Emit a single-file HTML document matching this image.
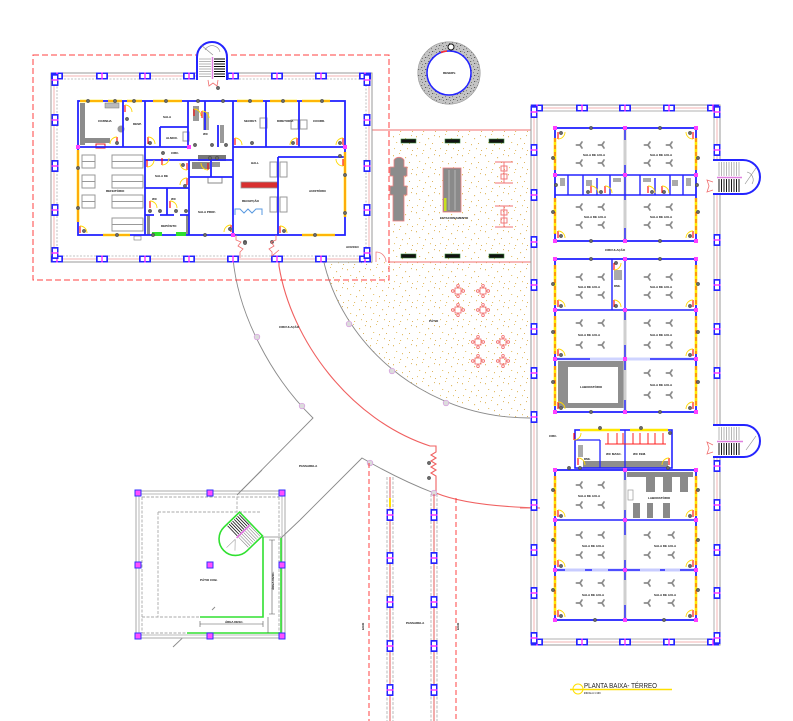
<!DOCTYPE html>
<html><head><meta charset="utf-8">
<style>
html,body{margin:0;padding:0;background:#fff;}
svg{display:block;}
text{font-family:"Liberation Sans",sans-serif;font-weight:bold;fill:#111;}
</style></head>
<body>
<svg width="793" height="721" viewBox="0 0 793 721" xmlns="http://www.w3.org/2000/svg">
<defs>
  <pattern id="sand" width="23" height="19" patternUnits="userSpaceOnUse">
    <rect x="2" y="3" width="1" height="1.3" fill="#e3bd68"/>
    <rect x="8" y="1" width="1" height="1" fill="#e8c878"/>
    <rect x="14" y="5" width="1.1" height="1.2" fill="#e3bd68"/>
    <rect x="20" y="2" width="0.9" height="1.1" fill="#ddb460"/>
    <rect x="5" y="9" width="1.2" height="1" fill="#e8c878"/>
    <rect x="11" y="11" width="1" height="1.2" fill="#e3bd68"/>
    <rect x="18" y="10" width="1" height="1" fill="#ddb460"/>
    <rect x="3" y="15" width="1" height="1.1" fill="#e8c878"/>
    <rect x="9" y="17" width="1.1" height="1" fill="#e3bd68"/>
    <rect x="16" y="15" width="1" height="1.2" fill="#e8c878"/>
    <rect x="21" y="17" width="1" height="1" fill="#ddb460"/>
  </pattern>
  <pattern id="speck" width="7" height="6" patternUnits="userSpaceOnUse">
    <rect width="7" height="6" fill="#c4c4c4"/>
    <rect x="1" y="1" width="1.2" height="1" fill="#6a6a6a"/>
    <rect x="4" y="0" width="1" height="1.2" fill="#888"/>
    <rect x="5" y="3" width="1.2" height="1" fill="#5a5a5a"/>
    <rect x="2" y="4" width="1" height="1" fill="#7a7a7a"/>
    <rect x="0" y="3" width="0.8" height="0.8" fill="#999"/>
  </pattern>
  <g id="cH"><rect x="-6" y="-3.5" width="12" height="7" fill="#2424ff"/><rect x="-4.3" y="-2" width="8.6" height="4" fill="#fff"/><rect x="-0.7" y="-3.5" width="1.4" height="7" fill="#ff30ff"/></g>
  <g id="cV"><rect x="-3.5" y="-6" width="7" height="12" fill="#2424ff"/><rect x="-2" y="-4.3" width="4" height="8.6" fill="#fff"/><rect x="-3.5" y="-0.7" width="7" height="1.4" fill="#ff30ff"/></g>
  <g id="dot"><circle r="1.7" fill="#6a6a6a" stroke="#333" stroke-width="0.4"/></g>
  <g id="fan" stroke="#8c8c8c" stroke-width="1.7" stroke-linecap="round"><line x1="0" y1="0" x2="-3.6" y2="0"/><line x1="0" y1="0" x2="2" y2="-3"/><line x1="0" y1="0" x2="2" y2="3"/></g>
  <g id="tbl" stroke="#f06464" fill="none" stroke-width="0.8"><rect x="-3" y="-3" width="6" height="6"/><circle cx="0" cy="-5.2" r="1.3"/><circle cx="0" cy="5.2" r="1.3"/><circle cx="-5.2" cy="0" r="1.3"/><circle cx="5.2" cy="0" r="1.3"/></g>
  <g id="dr"><path d="M0,0 L0,-7" stroke="#ff0000" stroke-width="1.1"/><path d="M0,-7 A7,7 0 0 1 7,0" stroke="#ffd800" fill="none" stroke-width="0.9"/></g>
  <g id="sq"><rect x="-3" y="-3" width="6" height="6" fill="#ff50ff" stroke="#3030ff" stroke-width="1"/></g>
</defs>

<!-- ===== SAND AREA ===== -->
<path d="M390,131 H531 V418 C420,418 340,340 323,258 L390,258 Z" fill="url(#sand)"/>
<line x1="372" y1="130" x2="531" y2="130" stroke="#f07070" stroke-width="1"/>
<line x1="388" y1="262" x2="531" y2="262" stroke="#f07070" stroke-width="1"/>
<path d="M376,262 V252 A10,10 0 0 1 386,262" fill="none" stroke="#f08080" stroke-width="0.8"/>

<!-- courtyard furniture -->
<g fill="#111" stroke="#3a8a3a" stroke-width="0.6">
  <rect x="401" y="139" width="15" height="4"/><rect x="445" y="139" width="15" height="4"/><rect x="489" y="139" width="15" height="4"/>
  <rect x="401" y="254" width="15" height="4"/><rect x="445" y="254" width="15" height="4"/><rect x="489" y="254" width="15" height="4"/>
</g>
<path d="M394,160 A6,6 0 0 1 404,160 V167 H407 V176 H404 V186 H407 V195 H404 V221 H393 V195 H390 V186 H393 V176 H390 V167 H394 Z" fill="#8c8c8c" stroke="#f08080" stroke-width="0.8"/>
<rect x="443" y="168" width="18" height="44" fill="#8a8a8a" stroke="#f08080" stroke-width="0.8"/>
<line x1="449" y1="170" x2="449" y2="210" stroke="#a8a8a8" stroke-width="1.5"/>
<line x1="455" y1="170" x2="455" y2="210" stroke="#a8a8a8" stroke-width="1.5"/>
<rect x="444" y="198" width="2.5" height="13" fill="#c8e020"/>
<text x="440" y="219" font-size="3">ESTACIONAMENTO</text>
<g stroke="#f07070" fill="none" stroke-width="0.9">
  <line x1="495" y1="162" x2="513" y2="162"/><line x1="495" y1="183" x2="513" y2="183"/><line x1="504" y1="162" x2="504" y2="183"/>
  <rect x="501" y="166" width="6" height="5"/><rect x="501" y="174" width="6" height="5"/>
  <line x1="495" y1="206" x2="513" y2="206"/><line x1="495" y1="227" x2="513" y2="227"/><line x1="504" y1="206" x2="504" y2="227"/>
  <rect x="501" y="210" width="6" height="5"/><rect x="501" y="218" width="6" height="5"/>
</g>
<use href="#tbl" x="458" y="291"/><use href="#tbl" x="483" y="291"/><use href="#tbl" x="458" y="310"/><use href="#tbl" x="483" y="310"/>
<use href="#tbl" x="478" y="342"/><use href="#tbl" x="503" y="342"/><use href="#tbl" x="478" y="361"/><use href="#tbl" x="503" y="361"/>
<text x="429" y="322" font-size="3">PÁTIO</text>

<!-- ===== ARCS / PATHS ===== -->
<g fill="none">
  <path d="M233,258 C238,315 272,378 313,418 L237,495" stroke="#8a8a8a" stroke-width="0.9"/>
  <path d="M323,258 C340,340 420,418 530,418" stroke="#8a8a8a" stroke-width="0.9"/>
  <path d="M300,520 L362,458 Q400,480 434,493" stroke="#8a8a8a" stroke-width="0.9"/>
  <path d="M215,607 L173,647" stroke="#8a8a8a" stroke-width="0.9"/>
  <path d="M279,250 L279,266 C291,340 350,420 430,446 L436,446 L436,452 L431,455 L436,458 L431,461 L436,464 L431,467 L436,470 L431,473 L436,476 L436,493 C460,503 500,507 540,508" stroke="#f06060" stroke-width="1.1"/>
</g>
<g fill="#dcdcdc" stroke="#d79be0" stroke-width="0.7">
  <circle cx="257" cy="337" r="2.8"/><circle cx="302" cy="406" r="2.8"/><circle cx="349" cy="324" r="2.8"/>
  <circle cx="392" cy="371" r="2.8"/><circle cx="446" cy="403" r="2.8"/><circle cx="370" cy="463" r="2.8"/><circle cx="434" cy="493" r="2.8"/>
</g>
<use href="#dot" x="429" y="463"/><use href="#dot" x="429" y="478"/>
<text x="279" y="328" font-size="3">CIRCULAÇÃO</text>
<text x="299" y="467" font-size="3">PASSARELA</text>

<!-- ===== ROAD COLUMNS ===== -->
<g fill="none">
  <line x1="369" y1="463" x2="369" y2="721" stroke="#ff3030" stroke-width="0.9" stroke-dasharray="5 3"/>
  <line x1="456" y1="498" x2="456" y2="721" stroke="#ff3030" stroke-width="0.9" stroke-dasharray="5 3"/>
  <line x1="387" y1="477" x2="387" y2="721" stroke="#aaa" stroke-width="0.8" stroke-dasharray="3 1.5"/>
  <line x1="393" y1="477" x2="393" y2="721" stroke="#aaa" stroke-width="0.8" stroke-dasharray="3 1.5"/>
  <line x1="390" y1="477" x2="390" y2="721" stroke="#e03030" stroke-width="0.8"/>
  <line x1="431" y1="494" x2="431" y2="721" stroke="#aaa" stroke-width="0.8" stroke-dasharray="3 1.5"/>
  <line x1="437" y1="494" x2="437" y2="721" stroke="#aaa" stroke-width="0.8" stroke-dasharray="3 1.5"/>
  <line x1="434" y1="494" x2="434" y2="721" stroke="#e03030" stroke-width="0.8"/>
  <line x1="390" y1="498" x2="390" y2="507" stroke="#ffe000" stroke-width="2"/>
</g>
<use href="#cV" x="390" y="515"/><use href="#cV" x="390" y="558"/><use href="#cV" x="390" y="602"/><use href="#cV" x="390" y="646"/><use href="#cV" x="390" y="690"/>
<use href="#cV" x="434" y="515"/><use href="#cV" x="434" y="558"/><use href="#cV" x="434" y="602"/><use href="#cV" x="434" y="646"/><use href="#cV" x="434" y="690"/>
<text x="406" y="624" font-size="3">PASSARELA</text>
<text x="364" y="630" font-size="3" transform="rotate(-90 364 630)">EIXO</text>
<text x="459" y="630" font-size="3" transform="rotate(-90 459 630)">EIXO</text>

<!-- ===== TOP-LEFT BUILDING ===== -->
<rect x="33" y="55" width="356" height="225" fill="none" stroke="#ff4040" stroke-width="1" stroke-dasharray="6 3"/>
<rect x="51" y="73" width="321" height="189" fill="#fff" stroke="#9a9a9a" stroke-width="1"/>
<rect x="54" y="76" width="315" height="183" fill="none" stroke="#f0a0a0" stroke-width="0.8"/>
<rect x="57" y="79" width="309" height="177" fill="none" stroke="#b0b0b0" stroke-width="0.8" stroke-dasharray="2 1.5"/>
<!-- stair top -->
<path d="M197,80 V57 A15,15 0 0 1 227,57 V80" fill="#fff" stroke="#2424ff" stroke-width="2"/>
<g stroke="#888" stroke-width="0.6">
  <line x1="199" y1="59" x2="211" y2="59"/><line x1="199" y1="61.5" x2="211" y2="61.5"/><line x1="199" y1="64" x2="211" y2="64"/><line x1="199" y1="66.5" x2="211" y2="66.5"/><line x1="199" y1="69" x2="211" y2="69"/><line x1="199" y1="71.5" x2="211" y2="71.5"/><line x1="199" y1="74" x2="211" y2="74"/><line x1="199" y1="76.5" x2="211" y2="76.5"/>
</g>
<g stroke="#000" stroke-width="1">
  <line x1="214" y1="59" x2="225" y2="59"/><line x1="214" y1="61.5" x2="225" y2="61.5"/><line x1="214" y1="64" x2="225" y2="64"/><line x1="214" y1="66.5" x2="225" y2="66.5"/><line x1="214" y1="69" x2="225" y2="69"/><line x1="214" y1="71.5" x2="225" y2="71.5"/><line x1="214" y1="74" x2="225" y2="74"/><line x1="214" y1="76.5" x2="225" y2="76.5"/>
</g>
<line x1="212.5" y1="57" x2="212.5" y2="79" stroke="#e080e0" stroke-width="1.5"/>
<path d="M201,45 L213,55 M205,50 A8,8 0 0 1 220,52" stroke="#888" stroke-width="0.6" fill="none"/>
<path d="M208,80 L209,86 L213,83 L217,86 L218,80" stroke="#f07070" fill="none" stroke-width="0.8"/>
<use href="#dot" x="218" y="88"/>
<!-- outer columns -->
<g>
<use href="#cH" x="57" y="76"/><use href="#cH" x="102" y="76"/><use href="#cH" x="145" y="76"/><use href="#cH" x="189" y="76"/><use href="#cH" x="233" y="76"/><use href="#cH" x="277" y="76"/><use href="#cH" x="321" y="76"/><use href="#cH" x="365" y="76"/>
<use href="#cH" x="57" y="259"/><use href="#cH" x="102" y="259"/><use href="#cH" x="145" y="259"/><use href="#cH" x="189" y="259"/><use href="#cH" x="233" y="259"/><use href="#cH" x="277" y="259"/><use href="#cH" x="321" y="259"/><use href="#cH" x="365" y="259"/>
<use href="#cV" x="55" y="80"/><use href="#cV" x="55" y="120"/><use href="#cV" x="55" y="166"/><use href="#cV" x="55" y="210"/><use href="#cV" x="55" y="253"/>
<use href="#cV" x="367" y="80"/><use href="#cV" x="367" y="120"/><use href="#cV" x="367" y="166"/><use href="#cV" x="367" y="210"/><use href="#cV" x="367" y="253"/>
</g>
<!-- interior fixtures -->
<g fill="#8c8c8c">
  <rect x="80" y="103" width="5" height="42"/><rect x="80" y="138" width="30" height="5"/>
  <rect x="105" y="103" width="14" height="5" fill="#bbb" stroke="#777" stroke-width="0.5"/>
  <circle cx="121" cy="129" r="3.5" fill="#999"/>
  <rect x="198" y="155" width="28" height="6" fill="#777"/>
  <rect x="192" y="162" width="18" height="7" fill="#888"/>
  <rect x="212" y="162" width="8" height="5" fill="#999"/>
  <rect x="208" y="177" width="14" height="6" fill="none" stroke="#888" stroke-width="1"/>
  <rect x="147" y="215" width="3" height="20"/><rect x="186" y="215" width="3" height="20"/>
  <rect x="193" y="106" width="6" height="15" fill="#999"/><rect x="203" y="112" width="6" height="18" fill="#aaa"/>
  <rect x="220" y="125" width="4" height="18" fill="#999"/>
</g>
<rect x="96" y="144" width="9" height="4" fill="#fff" stroke="#e02020" stroke-width="1"/>
<g fill="none" stroke="#999" stroke-width="1">
  <rect x="82" y="155" width="13" height="13"/><rect x="82" y="175" width="13" height="13"/><rect x="82" y="195" width="13" height="13"/>
  <rect x="112" y="155" width="31" height="13"/><rect x="112" y="175" width="31" height="13"/><rect x="112" y="195" width="31" height="13"/><rect x="112" y="218" width="31" height="13"/>
  <line x1="82" y1="161.5" x2="95" y2="161.5"/><line x1="82" y1="181.5" x2="95" y2="181.5"/><line x1="82" y1="201.5" x2="95" y2="201.5"/>
  <line x1="112" y1="161.5" x2="143" y2="161.5"/><line x1="112" y1="181.5" x2="143" y2="181.5"/><line x1="112" y1="201.5" x2="143" y2="201.5"/><line x1="112" y1="224.5" x2="143" y2="224.5"/>
  <rect x="260" y="118" width="7" height="10"/><rect x="291" y="120" width="7" height="9"/><rect x="300" y="120" width="7" height="9"/>
  <rect x="183" y="132" width="6" height="9"/>
  <rect x="270" y="162" width="7" height="15"/><rect x="280" y="162" width="7" height="15"/>
  <rect x="270" y="197" width="7" height="15"/><rect x="280" y="197" width="7" height="15"/>
</g>
<rect x="241" y="182" width="37" height="6" fill="#d83030" stroke="#999" stroke-width="0.8"/>
<path d="M235,215 V209 H240 L244,213 L248,209 L252,213 L256,209 H262 V215" fill="none" stroke="#5a9ae0" stroke-width="1"/>
<rect x="134" y="236" width="7" height="4" fill="none" stroke="#777" stroke-width="0.6"/>
<!-- walls -->
<g fill="none" stroke="#2424ff" stroke-width="1.8">
  <rect x="78" y="101" width="267" height="134"/>
  <path d="M78,147 H190 M233,147 H345 M123,101 V147 M145,101 V235 M188,101 V147 M160,127 H188 M160,127 V147 M233,101 V235 M266,101 V147 M299,101 V147 M145,160 H233 M278,157 H345 M278,157 V235 M145,188 H189 M189,160 V235 M167,188 V215 M145,215 H154 M160,215 H174 M180,215 H189 M189,177 H233 M211,160 V177 M205,101 V130 M218,125 V147"/>
</g>
<!-- windows -->
<g stroke="#ffe800" stroke-width="2.6">
  <path d="M80,101 H103 M108,101 H122 M127,101 H142 M153,101 H182 M237,101 H263 M270,101 H297 M302,101 H330 M78,150 V222 M345,152 V217 M103,235 H130 M302,235 H335"/>
</g>
<g stroke="#ff2020" stroke-width="0.6">
  <path d="M80,101 H103 M108,101 H122 M127,101 H142 M153,101 H182 M237,101 H263 M270,101 H297 M302,101 H330 M78,150 V222 M345,152 V217 M103,235 H130 M302,235 H335"/>
</g>
<rect x="152" y="232" width="10" height="4" fill="#30e030"/><rect x="176" y="232" width="10" height="4" fill="#30e030"/>
<g fill="#ff40ff">
  <rect x="76" y="145" width="4" height="4"/><rect x="343" y="145" width="4" height="4"/><rect x="187" y="145" width="4" height="4"/><rect x="231" y="233" width="4" height="4"/>
</g>
<!-- door arcs -->
<use href="#dr" transform="translate(117,144) scale(-1,1)"/>
<use href="#dr" transform="translate(148,144)"/>
<use href="#dr" transform="translate(125,112)"/>
<use href="#dr" transform="translate(147,160) scale(1,-1)"/>
<use href="#dr" transform="translate(162,158) scale(1,-1)"/>
<use href="#dr" transform="translate(187,163) scale(-1,-1)"/>
<use href="#dr" transform="translate(187,185) scale(-1,1)"/>
<use href="#dr" transform="translate(231,232) scale(-1,1)"/>
<use href="#dr" transform="translate(235,145)"/>
<use href="#dr" transform="translate(297,145) scale(-1,1)"/>
<use href="#dr" transform="translate(343,145) scale(-1,1)"/>
<use href="#dr" transform="translate(343,159) scale(-1,-1)"/>
<use href="#dr" transform="translate(80,233)"/>
<use href="#dr" transform="translate(280,233)"/>
<use href="#dr" transform="translate(194,116)"/>
<use href="#dr" transform="translate(202,118)"/>
<use href="#dr" transform="translate(170,208)"/>
<use href="#dr" transform="translate(150,208)"/>
<use href="#dr" transform="translate(208,163) scale(-1,-1)"/>
<!-- dots -->
<g>
<use href="#dot" x="88" y="101"/><use href="#dot" x="115" y="101"/><use href="#dot" x="134" y="101"/><use href="#dot" x="166" y="101"/><use href="#dot" x="198" y="101"/><use href="#dot" x="223" y="101"/><use href="#dot" x="250" y="101"/><use href="#dot" x="283" y="101"/><use href="#dot" x="322" y="101"/>
<use href="#dot" x="117" y="235"/><use href="#dot" x="153" y="235"/><use href="#dot" x="205" y="235"/><use href="#dot" x="245" y="242"/><use href="#dot" x="315" y="235"/><use href="#dot" x="272" y="242"/>
<use href="#dot" x="78" y="168"/><use href="#dot" x="78" y="208"/><use href="#dot" x="345" y="175"/><use href="#dot" x="345" y="213"/>
<use href="#dot" x="127" y="119"/><use href="#dot" x="150" y="143"/><use href="#dot" x="117" y="143"/><use href="#dot" x="195" y="145"/><use href="#dot" x="212" y="145"/><use href="#dot" x="226" y="145"/>
<use href="#dot" x="163" y="153"/><use href="#dot" x="183" y="165"/><use href="#dot" x="185" y="186"/><use href="#dot" x="150" y="211"/><use href="#dot" x="160" y="211"/><use href="#dot" x="176" y="211"/><use href="#dot" x="186" y="211"/>
<use href="#dot" x="252" y="143"/><use href="#dot" x="293" y="143"/><use href="#dot" x="340" y="143"/><use href="#dot" x="340" y="156"/><use href="#dot" x="84" y="231"/><use href="#dot" x="284" y="231"/><use href="#dot" x="230" y="229"/>
<use href="#dot" x="210" y="158"/><use href="#dot" x="217" y="158"/>
</g>
<!-- entrance doors -->
<path d="M236,235 V240 L241,242 L238,246 L243,249 L240,252 V258" fill="none" stroke="#f07070" stroke-width="0.8"/>
<path d="M276,235 V240 L271,242 L274,246 L269,249 L272,252 V256 L279,250" fill="none" stroke="#f07070" stroke-width="0.8"/>
<use href="#dot" x="245" y="243"/>
<!-- labels -->
<g font-size="3">
  <text x="98" y="122">COZINHA</text><text x="133" y="125">DESP.</text><text x="163" y="118">SALA</text><text x="166" y="139">ALMOX.</text>
  <text x="203" y="135">WC</text><text x="244" y="122">SECRET.</text><text x="277" y="122">DIRETORIA</text><text x="313" y="122">COORD.</text>
  <text x="106" y="192">REFEITÓRIO</text><text x="171" y="154">CIRC.</text><text x="155" y="177">SALA DE</text>
  <text x="152" y="200">WC</text><text x="171" y="200">WC</text><text x="198" y="213">SALA PROF.</text>
  <text x="251" y="164">HALL</text><text x="242" y="202">RECEPÇÃO</text><text x="309" y="192">AUDITÓRIO</text>
  <text x="161" y="227">DEPÓSITO</text><text x="346" y="248">ACESSO</text>
</g>

<!-- ===== ROUND TANK ===== -->
<circle cx="449" cy="73" r="26.5" fill="none" stroke="url(#speck)" stroke-width="9.5"/>
<circle cx="449" cy="73" r="31.2" fill="none" stroke="#9a9a9a" stroke-width="0.6"/>
<circle cx="449" cy="73" r="22" fill="#fff" stroke="#2424ff" stroke-width="1.5"/>
<path d="M441,52.5 A22,22 0 0 1 447,51" stroke="#ff3030" stroke-width="1.5" fill="none"/>
<circle cx="451" cy="47" r="3" fill="#fff" stroke="#111" stroke-width="1"/>
<text x="443" y="74" font-size="3">RESERV.</text>

<!-- ===== RIGHT BUILDING ===== -->
<rect x="531" y="105" width="189" height="540" fill="none" stroke="#999" stroke-width="1"/>
<rect x="534" y="108" width="183" height="534" fill="none" stroke="#f0a0a0" stroke-width="0.8"/>
<rect x="537" y="111" width="177" height="528" fill="none" stroke="#aaa" stroke-width="0.9"/>
<line x1="520" y1="508" x2="531" y2="508" stroke="#f07070"/>
<!-- stairs right -->
<path d="M713,160 H743 A17,17 0 0 1 743,194 H713" fill="#fff" stroke="#2424ff" stroke-width="2"/>
<g stroke="#888" stroke-width="0.6"><path d="M719,162 V176 M721.5,162 V176 M724,162 V176 M726.5,162 V176 M729,162 V176 M731.5,162 V176 M734,162 V176 M736.5,162 V176 M739,162 V176"/></g>
<g stroke="#000" stroke-width="0.9"><path d="M719,179 V192 M721.5,179 V192 M724,179 V192 M726.5,179 V192 M729,179 V192 M731.5,179 V192 M734,179 V192 M736.5,179 V192 M739,179 V192"/></g>
<line x1="717" y1="177.5" x2="742" y2="177.5" stroke="#e080e0" stroke-width="1.5"/>
<path d="M745,184 L756,168 M747,172 A8,8 0 0 1 752,184" stroke="#888" stroke-width="0.6" fill="none"/>
<path d="M713,182 L707,180 L709,186 L707,192 L713,190" fill="none" stroke="#f07070" stroke-width="0.8"/>
<path d="M713,425 H744 A16,16 0 0 1 744,457 H713" fill="#fff" stroke="#2424ff" stroke-width="2"/>
<g stroke="#888" stroke-width="0.6"><path d="M719,427 V440 M721.5,427 V440 M724,427 V440 M726.5,427 V440 M729,427 V440 M731.5,427 V440 M734,427 V440 M736.5,427 V440 M739,427 V440"/></g>
<g stroke="#000" stroke-width="0.9"><path d="M719,443 V455 M721.5,443 V455 M724,443 V455 M726.5,443 V455 M729,443 V455 M731.5,443 V455 M734,443 V455 M736.5,443 V455 M739,443 V455"/></g>
<line x1="717" y1="441.5" x2="743" y2="441.5" stroke="#e080e0" stroke-width="1.5"/>
<path d="M746,450 L756,436" stroke="#888" stroke-width="0.6"/>
<path d="M713,445 L707,442 L709,448 L707,454 L713,452" fill="none" stroke="#f07070" stroke-width="0.8"/>
<!-- outer columns -->
<g>
<use href="#cH" x="537" y="108"/><use href="#cH" x="582" y="108"/><use href="#cH" x="625" y="108"/><use href="#cH" x="669" y="108"/><use href="#cH" x="713" y="108"/>
<use href="#cH" x="537" y="642"/><use href="#cH" x="582" y="642"/><use href="#cH" x="625" y="642"/><use href="#cH" x="669" y="642"/><use href="#cH" x="713" y="642"/>
<use href="#cV" x="534" y="112"/><use href="#cV" x="534" y="150"/><use href="#cV" x="534" y="195"/><use href="#cV" x="534" y="242"/><use href="#cV" x="534" y="285"/><use href="#cV" x="534" y="329"/><use href="#cV" x="534" y="373"/><use href="#cV" x="534" y="417"/><use href="#cV" x="534" y="505"/><use href="#cV" x="534" y="550"/><use href="#cV" x="534" y="593"/><use href="#cV" x="534" y="638"/>
<use href="#cV" x="717" y="112"/><use href="#cV" x="717" y="150"/><use href="#cV" x="717" y="240"/><use href="#cV" x="717" y="285"/><use href="#cV" x="717" y="329"/><use href="#cV" x="717" y="373"/><use href="#cV" x="717" y="466"/><use href="#cV" x="717" y="505"/><use href="#cV" x="717" y="550"/><use href="#cV" x="717" y="593"/><use href="#cV" x="717" y="638"/>
</g>

<!-- Block 1 -->
<g fill="none">
  <line x1="625" y1="128" x2="625" y2="241" stroke="#cfcfcf" stroke-width="3"/>
  <rect x="555" y="128" width="141" height="113" stroke="#2424ff" stroke-width="1.8"/>
  <path d="M555,175 H696 M555,195 H696 M625,128 V140 M625,165 V200 M625,228 V241 M568,175 V195 M583,175 V195 M597,178 V195 M610,175 V195 M640,175 V195 M655,178 V195 M670,175 V195 M683,175 V195" stroke="#2424ff" stroke-width="1.4"/>
</g>
<g fill="#aaa"><rect x="560" y="178" width="5" height="8"/><rect x="586" y="180" width="6" height="6"/><rect x="613" y="178" width="8" height="4"/><rect x="643" y="178" width="8" height="4"/><rect x="672" y="180" width="6" height="6"/><rect x="686" y="178" width="5" height="8"/></g>
<!-- Block 2 -->
<rect x="558" y="361" width="67" height="47" fill="#8e8e8e"/>
<rect x="568" y="367" width="50" height="36" fill="#fff"/>
<g fill="none">
  <line x1="625" y1="310" x2="625" y2="412" stroke="#cfcfcf" stroke-width="3"/>
  <line x1="555" y1="359" x2="696" y2="359" stroke="#cfd4ff" stroke-width="3"/>
  <rect x="555" y="259" width="141" height="153" stroke="#2424ff" stroke-width="1.8"/>
  <path d="M555,310 H696 M555,359 H590 M650,359 H696 M612,259 V310 M625,259 V320 M625,345 V370 M625,400 V412" stroke="#2424ff" stroke-width="1.4"/>
</g>
<rect x="614" y="270" width="8" height="10" fill="#aaa"/>
<!-- Block 3 WC -->
<rect x="583" y="461" width="85" height="7" fill="#8e8e8e"/>
<g fill="none">
  <rect x="575" y="430" width="97" height="38" stroke="#2424ff" stroke-width="1.6"/>
  <path d="M625,430 V468 M600,440 V468 M575,440 H600" stroke="#2424ff" stroke-width="1.3"/>
  <path d="M580,430 H620 M630,430 H668" stroke="#ffe800" stroke-width="2.4"/>
  <path d="M608,433 V444 M617,433 V444 M623,433 V444 M633,433 V444 M640,433 V444 M648,433 V444 M655,433 V444 M663,433 V444 M605,444 H666" stroke="#ff2020" stroke-width="1"/>
</g>
<rect x="578" y="445" width="5" height="12" fill="#aaa"/>
<!-- Block 4 -->
<g fill="#8a8a8a">
  <rect x="627" y="472" width="66" height="5"/><rect x="646" y="477" width="9" height="15"/><rect x="663" y="477" width="9" height="15"/><rect x="680" y="477" width="8" height="15"/>
  <rect x="633" y="503" width="7" height="15"/><rect x="647" y="503" width="6" height="15"/><rect x="663" y="503" width="7" height="15"/>
</g>
<rect x="628" y="490" width="5" height="10" fill="none" stroke="#999" stroke-width="0.7"/>
<g fill="none">
  <line x1="625" y1="470" x2="625" y2="620" stroke="#cfcfcf" stroke-width="3"/>
  <line x1="555" y1="570" x2="696" y2="570" stroke="#c8ccff" stroke-width="3"/>
  <rect x="555" y="470" width="141" height="150" stroke="#2424ff" stroke-width="1.8"/>
  <path d="M555,520 H696 M555,570 H565 M585,570 H592 M608,570 H640 M660,570 H665 M680,570 H696 M625,470 V480 M625,510 V535 M625,560 V580 M625,605 V620" stroke="#2424ff" stroke-width="1.4"/>
</g>
<!-- windows on blocks -->
<g stroke="#ffe800" stroke-width="2.6" fill="none">
  <path d="M555,138 V170 M555,198 V234 M696,138 V170 M696,198 V234 M555,265 V305 M555,316 V354 M555,366 V406 M696,265 V305 M696,316 V354 M696,366 V406 M555,476 V516 M555,526 V565 M555,576 V615 M696,476 V516 M696,526 V565 M696,576 V615"/>
</g>
<g stroke="#ff2020" stroke-width="0.8" fill="none" stroke-dasharray="4 3">
  <path d="M555,138 V170 M555,198 V234 M696,138 V170 M696,198 V234 M555,265 V305 M555,316 V354 M555,366 V406 M696,265 V305 M696,316 V354 M696,366 V406 M555,476 V516 M555,526 V565 M555,576 V615 M696,476 V516 M696,526 V565 M696,576 V615"/>
</g>
<!-- magenta joints -->
<g fill="#ff40ff">
  <rect x="553" y="126" width="4" height="4"/><rect x="623" y="126" width="4" height="4"/><rect x="694" y="126" width="4" height="4"/>
  <rect x="553" y="239" width="4" height="4"/><rect x="623" y="239" width="4" height="4"/><rect x="694" y="239" width="4" height="4"/>
  <rect x="553" y="173" width="4" height="4"/><rect x="623" y="173" width="4" height="4"/><rect x="694" y="173" width="4" height="4"/>
  <rect x="553" y="257" width="4" height="4"/><rect x="623" y="257" width="4" height="4"/><rect x="694" y="257" width="4" height="4"/>
  <rect x="553" y="308" width="4" height="4"/><rect x="623" y="308" width="4" height="4"/><rect x="694" y="308" width="4" height="4"/>
  <rect x="553" y="357" width="4" height="4"/><rect x="623" y="357" width="4" height="4"/><rect x="694" y="357" width="4" height="4"/>
  <rect x="553" y="410" width="4" height="4"/><rect x="623" y="410" width="4" height="4"/><rect x="694" y="410" width="4" height="4"/>
  <rect x="553" y="468" width="4" height="4"/><rect x="623" y="468" width="4" height="4"/><rect x="694" y="468" width="4" height="4"/>
  <rect x="553" y="518" width="4" height="4"/><rect x="623" y="518" width="4" height="4"/><rect x="694" y="518" width="4" height="4"/>
  <rect x="553" y="568" width="4" height="4"/><rect x="623" y="568" width="4" height="4"/><rect x="694" y="568" width="4" height="4"/>
  <rect x="553" y="618" width="4" height="4"/><rect x="623" y="618" width="4" height="4"/><rect x="694" y="618" width="4" height="4"/>
</g>
<!-- door arcs right building -->
<g>
<use href="#dr" transform="translate(558,132) scale(1,-1)"/><use href="#dr" transform="translate(693,132) scale(-1,-1)"/>
<use href="#dr" transform="translate(558,238)"/><use href="#dr" transform="translate(693,238) scale(-1,1)"/>
<use href="#dr" transform="translate(558,307)"/><use href="#dr" transform="translate(693,307) scale(-1,1)"/>
<use href="#dr" transform="translate(558,356)"/><use href="#dr" transform="translate(693,356) scale(-1,1)"/>
<use href="#dr" transform="translate(558,409)"/><use href="#dr" transform="translate(693,409) scale(-1,1)"/>
<use href="#dr" transform="translate(558,517)"/><use href="#dr" transform="translate(693,517) scale(-1,1)"/>
<use href="#dr" transform="translate(558,567)"/><use href="#dr" transform="translate(693,567) scale(-1,1)"/>
<use href="#dr" transform="translate(558,617)"/><use href="#dr" transform="translate(693,617) scale(-1,1)"/>
<use href="#dr" transform="translate(614,263) scale(1,-1)"/><use href="#dr" transform="translate(614,307)"/>
<use href="#dr" transform="translate(578,465)"/><use href="#dr" transform="translate(669,465) scale(-1,1)"/>
<use href="#dr" transform="translate(591,193)"/><use href="#dr" transform="translate(605,193)"/><use href="#dr" transform="translate(648,193)"/><use href="#dr" transform="translate(662,193)"/>
<use href="#dr" transform="translate(574,433) scale(1,-1)"/>
</g>
<!-- dots right building -->
<g>
<use href="#dot" x="591" y="128"/><use href="#dot" x="660" y="128"/><use href="#dot" x="591" y="241"/><use href="#dot" x="660" y="241"/>
<use href="#dot" x="553" y="158"/><use href="#dot" x="553" y="212"/><use href="#dot" x="698" y="158"/><use href="#dot" x="698" y="212"/>
<use href="#dot" x="556" y="185"/><use href="#dot" x="697" y="185"/><use href="#dot" x="588" y="192"/><use href="#dot" x="601" y="192"/><use href="#dot" x="652" y="192"/><use href="#dot" x="664" y="192"/>
<use href="#dot" x="591" y="259"/><use href="#dot" x="660" y="259"/><use href="#dot" x="591" y="412"/><use href="#dot" x="660" y="412"/>
<use href="#dot" x="553" y="284"/><use href="#dot" x="553" y="332"/><use href="#dot" x="553" y="382"/><use href="#dot" x="698" y="284"/><use href="#dot" x="698" y="332"/><use href="#dot" x="698" y="382"/>
<use href="#dot" x="616" y="263"/><use href="#dot" x="616" y="306"/>
<use href="#dot" x="600" y="428"/><use href="#dot" x="641" y="428"/><use href="#dot" x="670" y="433"/><use href="#dot" x="668" y="468"/><use href="#dot" x="569" y="468"/><use href="#dot" x="580" y="468"/>
<use href="#dot" x="595" y="620"/><use href="#dot" x="664" y="620"/>
<use href="#dot" x="553" y="490"/><use href="#dot" x="553" y="540"/><use href="#dot" x="553" y="590"/><use href="#dot" x="698" y="490"/><use href="#dot" x="698" y="540"/><use href="#dot" x="698" y="590"/>
<use href="#dot" x="561" y="516"/><use href="#dot" x="690" y="516"/><use href="#dot" x="561" y="616"/><use href="#dot" x="690" y="616"/><use href="#dot" x="561" y="566"/><use href="#dot" x="690" y="566"/>
<use href="#dot" x="561" y="236"/><use href="#dot" x="690" y="236"/><use href="#dot" x="561" y="133"/><use href="#dot" x="690" y="133"/>
<use href="#dot" x="561" y="306"/><use href="#dot" x="690" y="306"/><use href="#dot" x="561" y="355"/><use href="#dot" x="690" y="355"/><use href="#dot" x="561" y="408"/><use href="#dot" x="690" y="408"/>
</g>
<!-- fans -->
<g>
<use href="#fan" x="580" y="145"/><use href="#fan" x="602" y="145"/><use href="#fan" x="580" y="163"/><use href="#fan" x="602" y="163"/>
<use href="#fan" x="648" y="145"/><use href="#fan" x="670" y="145"/><use href="#fan" x="648" y="163"/><use href="#fan" x="670" y="163"/>
<use href="#fan" x="580" y="207"/><use href="#fan" x="602" y="207"/><use href="#fan" x="580" y="225"/><use href="#fan" x="602" y="225"/>
<use href="#fan" x="648" y="207"/><use href="#fan" x="670" y="207"/><use href="#fan" x="648" y="225"/><use href="#fan" x="670" y="225"/>
<use href="#fan" x="580" y="277"/><use href="#fan" x="602" y="277"/><use href="#fan" x="580" y="295"/><use href="#fan" x="602" y="295"/>
<use href="#fan" x="648" y="277"/><use href="#fan" x="670" y="277"/><use href="#fan" x="648" y="295"/><use href="#fan" x="670" y="295"/>
<use href="#fan" x="580" y="323"/><use href="#fan" x="602" y="323"/><use href="#fan" x="580" y="345"/><use href="#fan" x="602" y="345"/>
<use href="#fan" x="648" y="323"/><use href="#fan" x="670" y="323"/><use href="#fan" x="648" y="345"/><use href="#fan" x="670" y="345"/>
<use href="#fan" x="648" y="373"/><use href="#fan" x="670" y="373"/><use href="#fan" x="648" y="395"/><use href="#fan" x="670" y="395"/>
<use href="#fan" x="580" y="485"/><use href="#fan" x="602" y="485"/><use href="#fan" x="580" y="505"/><use href="#fan" x="602" y="505"/>
<use href="#fan" x="580" y="535"/><use href="#fan" x="602" y="535"/><use href="#fan" x="580" y="555"/><use href="#fan" x="602" y="555"/>
<use href="#fan" x="648" y="535"/><use href="#fan" x="672" y="535"/><use href="#fan" x="648" y="555"/><use href="#fan" x="672" y="555"/>
<use href="#fan" x="580" y="583"/><use href="#fan" x="602" y="583"/><use href="#fan" x="580" y="603"/><use href="#fan" x="602" y="603"/>
<use href="#fan" x="648" y="583"/><use href="#fan" x="672" y="583"/><use href="#fan" x="648" y="603"/><use href="#fan" x="672" y="603"/>
</g>
<!-- labels right building -->
<g font-size="3">
  <text x="583" y="156">SALA DE AULA</text><text x="650" y="156">SALA DE AULA</text>
  <text x="584" y="218">SALA DE AULA</text><text x="650" y="218">SALA DE AULA</text>
  <text x="578" y="288">SALA DE AULA</text><text x="650" y="288">SALA DE AULA</text>
  <text x="578" y="336">SALA DE AULA</text><text x="650" y="336">SALA DE AULA</text>
  <text x="580" y="388">LABORATÓRIO</text><text x="650" y="386">SALA DE AULA</text>
  <text x="578" y="497">SALA DE AULA</text><text x="648" y="499">LABORATÓRIO</text>
  <text x="582" y="547">SALA DE AULA</text><text x="654" y="547">SALA DE AULA</text>
  <text x="582" y="596">SALA DE AULA</text><text x="654" y="596">SALA DE AULA</text>
  <text x="605" y="251">CIRCULAÇÃO</text><text x="549" y="437">CIRC.</text>
  <text x="606" y="455">WC MASC.</text><text x="633" y="455">WC FEM.</text><text x="584" y="460">DML</text>
  <text x="614" y="287">DML</text>
</g>

<!-- ===== BOTTOM-LEFT BUILDING ===== -->
<rect x="136" y="491" width="149" height="147" fill="#fff" stroke="#aaa" stroke-width="1"/>
<rect x="139" y="494" width="143" height="141" fill="none" stroke="#aaa" stroke-width="0.8"/>
<g fill="none" stroke="#a8a8a8" stroke-width="0.9" stroke-dasharray="3 1.5">
  <path d="M142,497 V633 M158,512 V617 M237,497 V512 M279,497 V633 M142,497 H279 M158,512 H260 M142,617 H200 M142,633 H190"/>
</g>
<!-- lines through -->
<path d="M237,495 L262,470" stroke="#8a8a8a" stroke-width="0.9" fill="none"/>
<path d="M281,538 L300,520" stroke="#8a8a8a" stroke-width="0.9" fill="none"/>
<path d="M212,610 L215,607" stroke="#8a8a8a" stroke-width="0.9"/>
<!-- green walls -->
<path d="M263,537 V617 H200" fill="none" stroke="#30e030" stroke-width="1.6"/>
<path d="M281,538 V633 H187" fill="none" stroke="#30e030" stroke-width="1.6"/>
<path d="M263,537 H281" stroke="#888" stroke-width="0.7"/>
<g stroke="#555" stroke-width="0.6" fill="none">
  <path d="M272,540 V614 M269,540 H275 M269,614 H275 M200,624 H263 M200,621 V627 M263,621 V627 M268,617 V633"/>
</g>
<text x="274" y="590" font-size="3" transform="rotate(-90 274 590)">ÁREA DESC.</text>
<text x="225" y="623" font-size="3">ÁREA DESC.</text>
<!-- stair -->
<g transform="translate(251,524) rotate(136)">
  <path d="M0,-16.5 L21.5,-16.5 A16.5,16.5 0 0 1 21.5,16.5 L0,16.5 Z" fill="#fff" stroke="#30e030" stroke-width="1.6"/>
  <g stroke="#888" stroke-width="0.6"><path d="M2,-15 V-1 M4.3,-15 V-1 M6.6,-15 V-1 M8.9,-15 V-1 M11.2,-15 V-1 M13.5,-15 V-1 M15.8,-15 V-1 M18.1,-15 V-1"/></g>
  <g stroke="#111" stroke-width="0.8"><path d="M2,1 V15 M4.3,1 V15 M6.6,1 V15 M8.9,1 V15 M11.2,1 V15 M13.5,1 V15 M15.8,1 V15 M18.1,1 V15"/></g>
  <line x1="1" y1="0" x2="20" y2="0" stroke="#e070e0" stroke-width="1.6"/>
  <path d="M22,0 L34,0 M22,0 L30,-8" stroke="#888" stroke-width="0.5"/>
</g>
<!-- columns -->
<use href="#sq" x="138" y="493"/><use href="#sq" x="210" y="493"/><use href="#sq" x="282" y="493"/>
<use href="#sq" x="138" y="565"/><use href="#sq" x="210" y="565"/><use href="#sq" x="282" y="565"/>
<use href="#sq" x="138" y="636"/><use href="#sq" x="210" y="636"/><use href="#sq" x="282" y="636"/>
<text x="200" y="581" font-size="3">PÁTIO COB.</text>

<!-- ===== TITLE ===== -->
<circle cx="578" cy="689" r="5" fill="none" stroke="#ffe000" stroke-width="1"/>
<line x1="570" y1="689.5" x2="672" y2="689.5" stroke="#ffe000" stroke-width="1.4"/>
<text x="584" y="688" font-size="7" textLength="73" lengthAdjust="spacingAndGlyphs" style="font-weight:normal;fill:#222">PLANTA BAIXA- TÉRREO</text>
<text x="584" y="694" font-size="2.4" style="fill:#444">ESCALA 1:100</text>
</svg>
</body></html>
